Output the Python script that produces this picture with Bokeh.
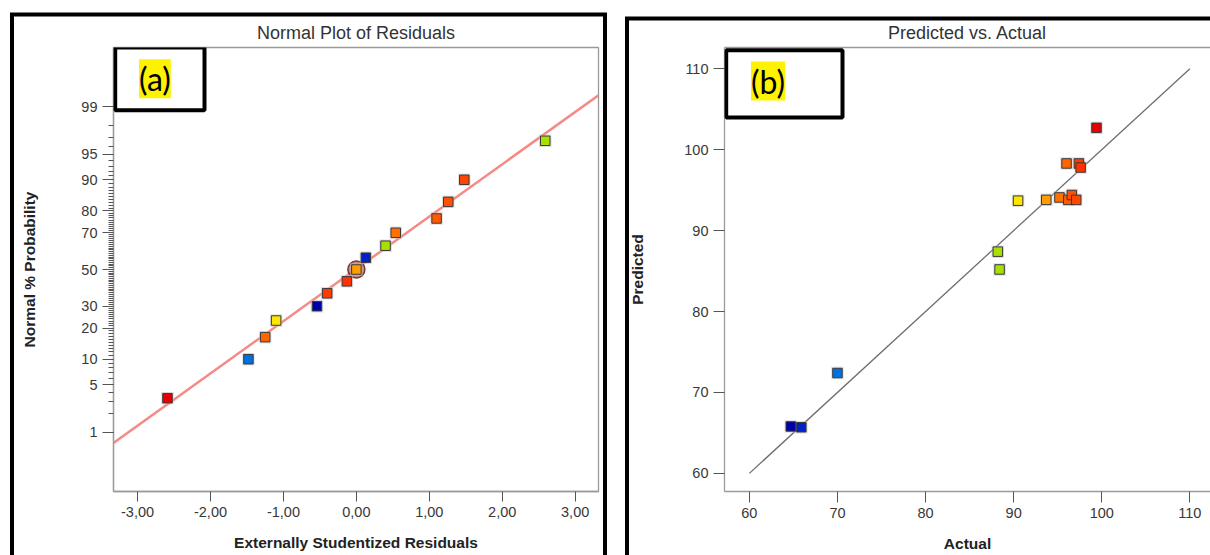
from statistics import NormalDist
from bokeh.plotting import figure
from bokeh.layouts import row
from bokeh.models import FixedTicker, Label, BoxAnnotation, LinearAxis
from bokeh.embed import file_html
from bokeh.resources import INLINE

# ---------------- data ----------------
# (a) Normal plot of residuals
residuals = [-2.59, -1.48, -1.25, -1.10, -0.54, -0.40, -0.13, 0.00, 0.13, 0.40, 0.54, 1.10, 1.26, 1.48, 2.59]
normal_prob = [3.3, 10.0, 16.7, 23.3, 30.0, 36.7, 43.3, 50.0, 56.7, 63.3, 70.0, 76.7, 83.3, 90.0, 96.7]
resid_colors = ["#e60000", "#0070e0", "#ff6400", "#ffe600", "#0000a8", "#ff3c00", "#ff3200", "#ff9c00",
                "#0022c8", "#a8e000", "#ff7000", "#ff5a00", "#ff5000", "#ff4600", "#a8e000"]
highlight_resid = [0.00]
highlight_prob = [50.0]
fit_line_resid = [-3.33, 3.32]
fit_line_prob = [0.66, 99.36]
prob_ticks = [1, 5, 10, 20, 30, 50, 70, 80, 90, 95, 99]
prob_minor = list(range(1, 100))
resid_ticks = [-3, -2, -1, 0, 1, 2, 3]
resid_tick_labels = ["-3,00", "-2,00", "-1,00", "0,00", "1,00", "2,00", "3,00"]

# (b) Predicted vs. actual
actual = [64.7, 65.9, 70.0, 88.2, 88.4, 90.5, 93.7, 95.2, 96.0, 96.2, 96.6, 97.1, 97.4, 97.6, 99.4]
predicted = [65.8, 65.7, 72.4, 87.4, 85.2, 93.7, 93.8, 94.1, 98.3, 93.8, 94.4, 93.8, 98.3, 97.8, 102.7]
pva_colors = ["#0000a8", "#0022c8", "#0070e0", "#a8e000", "#a8e000", "#ffe600", "#ff9c00", "#ff7000",
              "#ff6400", "#ff5a00", "#ff5000", "#ff4600", "#ff3c00", "#ff3200", "#e60000"]
ref_line = [60, 110]
pva_ticks = [60, 70, 80, 90, 100, 110]

# ---------------- helpers ----------------
H = 555
FONT = "Liberation Sans"
nd = NormalDist()


def z(p):
    return round(nd.inv_cdf(p / 100.0), 6)


def style_axis(ax):
    ax.axis_line_color = "#9a9a9a"
    ax.axis_line_width = 1.3
    ax.major_tick_line_color = "#555555"
    ax.minor_tick_line_color = "#555555"
    ax.major_label_text_font = FONT
    ax.major_label_text_font_size = "14.5px"
    ax.major_label_text_color = "#383838"
    ax.axis_label_text_font = FONT
    ax.axis_label_text_font_size = "15.5px"
    ax.axis_label_text_font_style = "bold"
    ax.axis_label_text_color = "#222222"


def style_title(p, text):
    p.title.text = text
    p.title.align = "center"
    p.title.text_font = FONT
    p.title.text_font_size = "18px"
    p.title.text_font_style = "normal"
    p.title.text_color = "#333333"


def canvas_box(p, l, r, t, b, lw=4):
    p.add_layout(BoxAnnotation(left=l, right=r, top=t, bottom=b,
                               left_units="canvas", right_units="canvas",
                               top_units="canvas", bottom_units="canvas",
                               fill_color=None, fill_alpha=0,
                               line_color="black", line_alpha=1.0, line_width=lw))


def tag(p, text, cx, cy):
    p.add_layout(Label(x=cx, y=cy, x_units="canvas", y_units="canvas", text=text,
                       text_align="center", text_baseline="middle",
                       text_font="Lato", text_font_size="32px", text_color="black",
                       background_fill_color="#fff200"))


# ---------------- (a) ----------------
p1 = figure(width=616, height=H, x_range=(-3.33, 3.32), y_range=(-3.171, 3.171),
            output_backend="svg", toolbar_location=None,
            min_border_left=113, min_border_right=18, min_border_top=47, min_border_bottom=64,
            styles={"box-shadow": "inset 10px 12.5px 0 0 white, inset -9px 0 0 0 white, "
                                  "inset 14px 16.5px 0 0 black, inset -13px 0 0 0 black"})
style_title(p1, "Normal Plot of Residuals")
p1.grid.visible = False
p1.outline_line_color = "#9a9a9a"
p1.outline_line_width = 1.3
p1.background_fill_color = "white"
p1.border_fill_color = None

xa1 = p1.below[0]
ya1 = p1.left[0]
xa1.ticker = FixedTicker(ticks=resid_ticks)
xa1.major_label_overrides = {t: s for t, s in zip(resid_ticks, resid_tick_labels)}
xa1.axis_label = "Externally Studentized Residuals"
xa1.major_tick_out = 10
xa1.major_tick_in = 0
xa1.minor_tick_out = 0
xa1.minor_tick_in = 0
xa1.major_label_standoff = 5
xa1.axis_label_standoff = 14

ya1.ticker = FixedTicker(ticks=[z(v) for v in prob_ticks], minor_ticks=[z(v) for v in prob_minor])
ya1.major_label_overrides = {z(v): str(v) for v in prob_ticks}
ya1.axis_label = "Normal % Probability"
ya1.major_tick_out = 11
ya1.major_tick_in = 0
ya1.minor_tick_out = 5
ya1.minor_tick_in = 0
ya1.major_label_standoff = 5
ya1.axis_label_standoff = 40
style_axis(xa1)
style_axis(ya1)

p1.line(fit_line_resid, [z(v) for v in fit_line_prob], line_color="#f58a86", line_width=2.5)
p1.scatter(highlight_resid, [z(v) for v in highlight_prob], marker="circle", size=17,
           fill_color="#b06060", fill_alpha=0.75, line_color="#7a3535", line_width=1.5)
zp = [z(v) for v in normal_prob]
p1.scatter(residuals, zp, marker="square", size=12.5, fill_color="#c4c4c4", fill_alpha=0.55, line_color=None)
p1.scatter(residuals, zp, marker="square", size=9.5, fill_color=resid_colors,
           line_color="#3a3a3a", line_width=1)

canvas_box(p1, 114.7, 204, 47, 109.7)
tag(p1, "(a)", 154.4, 78.3)

# ---------------- (b) ----------------
p2 = figure(width=594, height=H, x_range=(57.18, 112.34), y_range=(57.76, 112.63),
            output_backend="svg", toolbar_location=None,
            min_border_left=108, min_border_right=0, min_border_top=47, min_border_bottom=64,
            styles={"box-shadow": "inset 9px 16.5px 0 0 white, inset 13px 20.5px 0 0 black"})
style_title(p2, "Predicted vs. Actual")
p2.grid.visible = False
p2.outline_line_color = None
p2.background_fill_color = "white"
p2.border_fill_color = None

xa2 = p2.below[0]
ya2 = p2.left[0]

top_ax = LinearAxis(ticker=FixedTicker(ticks=[]), major_label_text_font_size="0px",
                    major_tick_out=0, major_tick_in=0, minor_tick_out=0, minor_tick_in=0,
                    major_label_standoff=0)
top_ax.axis_line_color = "#9a9a9a"
top_ax.axis_line_width = 1.3
p2.add_layout(top_ax, "above")

xa2.ticker = FixedTicker(ticks=pva_ticks)
ya2.ticker = FixedTicker(ticks=pva_ticks)
xa2.axis_label = "Actual"
ya2.axis_label = "Predicted"
for ax in (xa2, ya2):
    style_axis(ax)
    ax.major_tick_out = 11
    ax.major_tick_in = 0
    ax.minor_tick_out = 0
    ax.minor_tick_in = 0
    ax.major_label_standoff = 5
xa2.axis_label_standoff = 14
ya2.axis_label_standoff = 35

p2.line(ref_line, ref_line, line_color="#6e6e6e", line_width=1.3)
p2.scatter(actual, predicted, marker="square", size=12.5, fill_color="#c4c4c4", fill_alpha=0.55, line_color=None)
p2.scatter(actual, predicted, marker="square", size=9.5, fill_color=pva_colors,
           line_color="#3a3a3a", line_width=1)

canvas_box(p2, 109.7, 226, 49.8, 116.9)
tag(p2, "(b)", 151.5, 80.5)

layout = row(p1, p2)
open("out.html", "w").write(file_html(layout, INLINE))
